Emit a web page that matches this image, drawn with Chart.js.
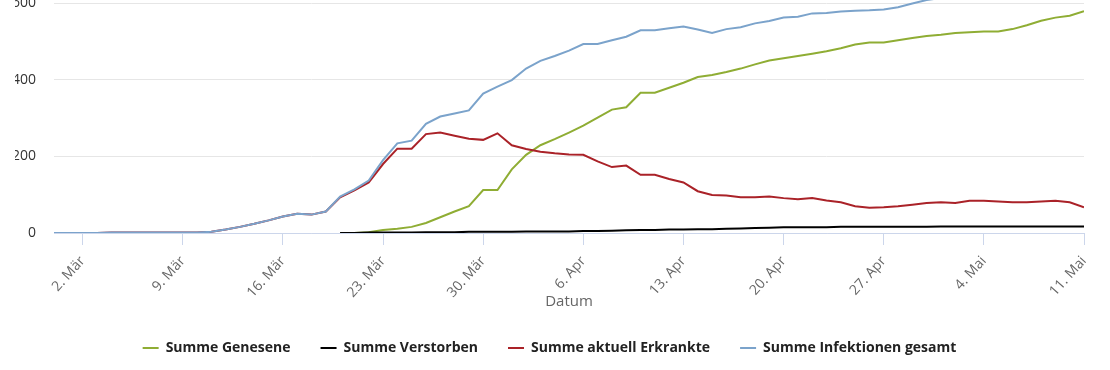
<!DOCTYPE html>
<html>
<head>
<meta charset="utf-8">
<script src="https://cdn.jsdelivr.net/npm/chart.js@4/dist/chart.umd.min.js"></script>
<style>
  html, body { margin: 0; padding: 0; background: #fff; overflow: hidden; width: 1110px; height: 370px; }
  #wrap { position: absolute; left: 0; top: -100px; width: 1110px; height: 465px; }
</style>
</head>
<body>
<div id="wrap"><canvas id="chart"></canvas></div>
<script>
// Tage 29. Feb bis 11. Mai 2020
const dates = [
  '29. Feb',
  '1. Mär', '2. Mär', '3. Mär', '4. Mär', '5. Mär', '6. Mär', '7. Mär', '8. Mär', '9. Mär', '10. Mär',
  '11. Mär', '12. Mär', '13. Mär', '14. Mär', '15. Mär', '16. Mär', '17. Mär', '18. Mär', '19. Mär', '20. Mär',
  '21. Mär', '22. Mär', '23. Mär', '24. Mär', '25. Mär', '26. Mär', '27. Mär', '28. Mär', '29. Mär', '30. Mär', '31. Mär',
  '1. Apr', '2. Apr', '3. Apr', '4. Apr', '5. Apr', '6. Apr', '7. Apr', '8. Apr', '9. Apr', '10. Apr',
  '11. Apr', '12. Apr', '13. Apr', '14. Apr', '15. Apr', '16. Apr', '17. Apr', '18. Apr', '19. Apr', '20. Apr',
  '21. Apr', '22. Apr', '23. Apr', '24. Apr', '25. Apr', '26. Apr', '27. Apr', '28. Apr', '29. Apr', '30. Apr',
  '1. Mai', '2. Mai', '3. Mai', '4. Mai', '5. Mai', '6. Mai', '7. Mai', '8. Mai', '9. Mai', '10. Mai', '11. Mai'
];
const tickDates = ['2. Mär', '9. Mär', '16. Mär', '23. Mär', '30. Mär', '6. Apr', '13. Apr', '20. Apr', '27. Apr', '4. Mai', '11. Mai'];

const genesene = [
  null, null, null, null, null, null, null, null, null, null,
  null, null, null, null, null, null, null, null, null, null,
  0, 0, 2, 8, 11, 16, 26, 41, 56, 70,
  112, 112, 166, 204, 229, 245, 262, 280, 301, 322,
  328, 366, 366, 379, 392, 407, 412, 420, 429, 440,
  450, 456, 462, 468, 474, 482, 492, 497, 497, 503,
  509, 514, 517, 522, 524, 526, 526, 532, 542, 554,
  562, 567, 579
];
const verstorben = [
  null, null, null, null, null, null, null, null, null, null,
  null, null, null, null, null, null, null, null, null, null,
  0, 0, 1, 1, 1, 1, 2, 2, 2, 3,
  3, 3, 3, 4, 4, 4, 4, 5, 5, 6,
  7, 8, 8, 9, 9, 10, 10, 11, 12, 13,
  14, 15, 15, 15, 15, 16, 16, 16, 16, 16,
  16, 16, 17, 17, 17, 17, 17, 17, 17, 17,
  17, 17, 17
];
const erkrankt = [
  0, 0, 0, 0, 1, 1, 1, 1, 1, 1,
  1, 3, 9, 16, 24, 33, 43, 50, 48, 56,
  93, 111, 132, 180, 220, 220, 258, 262, 254, 246,
  243, 260, 229, 219, 212, 208, 205, 204, 187, 172,
  176, 152, 152, 141, 132, 109, 99, 98, 93, 93,
  95, 91, 88, 91, 85, 80, 70, 66, 67, 70,
  74, 78, 80, 78, 84, 84, 82, 80, 80, 82,
  84, 80, 67
];
const infektionen = [
  0, 0, 0, 0, 1, 1, 1, 1, 1, 1,
  1, 3, 9, 16, 24, 33, 43, 50, 48, 56,
  95, 114, 137, 190, 234, 241, 285, 304, 312, 320,
  364, 382, 399, 429, 449, 462, 476, 493, 493, 503,
  512, 529, 529, 534, 539, 531, 522, 532, 537, 547,
  553, 562, 564, 573, 574, 578, 580, 581, 583, 589,
  599, 608, 613, 616, 625, 627, 628, 629, 639, 653,
  663, 664, 665
];

function toPoints(values) {
  return values.map((v, i) => ({ x: i, y: v }));
}

function makeSet(label, values, color, order) {
  return {
    label: label,
    data: toPoints(values),
    borderColor: color,
    backgroundColor: color,
    borderWidth: 2,
    pointRadius: 0,
    pointHoverRadius: 0,
    tension: 0,
    order: order
  };
}

const ctx = document.getElementById('chart').getContext('2d');
new Chart(ctx, {
  type: 'line',
  data: {
    datasets: [
      makeSet('Summe Genesene', genesene, '#8fad34', 3),
      makeSet('Summe Verstorben', verstorben, '#000000', 2),
      makeSet('Summe aktuell Erkrankte', erkrankt, '#aa2228', 1),
      makeSet('Summe Infektionen gesamt', infektionen, '#7ba3cb', 0)
    ]
  },
  options: {
    responsive: true,
    maintainAspectRatio: false,
    animation: false,
    layout: { padding: { top: 13, left: 15, right: 26, bottom: 0 } },
    plugins: {
      tooltip: { enabled: false },
      legend: {
        position: 'bottom',
        labels: {
          usePointStyle: true,
          pointStyle: 'line',
          pointStyleWidth: 16,
          padding: 30,
          color: '#222222',
          font: { family: 'Open Sans', size: 14, weight: 'bold' },
          sort: (a, b) => a.datasetIndex - b.datasetIndex
        }
      }
    },
    scales: {
      x: {
        type: 'linear',
        min: 0,
        max: dates.length - 1,
        afterBuildTicks: axis => {
          axis.ticks = tickDates.map(d => ({ value: dates.indexOf(d) }));
        },
        afterFit: axis => { axis.height = 78; },
        grid: { drawOnChartArea: false, drawTicks: true, tickLength: 12, color: '#ccd6eb' },
        border: { color: '#ccd6eb', width: 1 },
        ticks: {
          autoSkip: false,
          maxRotation: 48,
          minRotation: 48,
          padding: 8,
          color: '#666666',
          font: { family: 'Open Sans', size: 14 },
          callback: v => dates[v]
        },
        title: {
          display: true,
          text: 'Datum',
          color: '#666666',
          font: { family: 'Open Sans', size: 15 },
          padding: { top: 0, bottom: 0 }
        }
      },
      y: {
        min: 0,
        max: 800,
        afterFit: axis => { axis.width = 39; },
        ticks: {
          stepSize: 200,
          padding: 18,
          color: '#333333',
          font: { family: 'Open Sans', size: 14 }
        },
        grid: { color: '#e6e6e6', drawTicks: false },
        border: { display: false }
      }
    }
  }
});
</script>
</body>
</html>
